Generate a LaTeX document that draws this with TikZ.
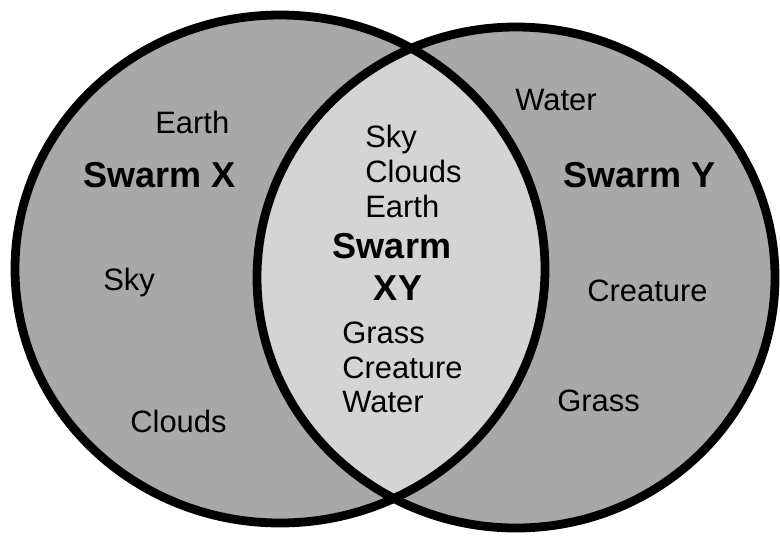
\documentclass[tikz,border=0pt]{standalone}
\usepackage{fontspec}
\setmainfont{Liberation Sans}
\definecolor{SwarmGray}{HTML}{A8A8A8}
\definecolor{SwarmLight}{HTML}{D4D4D4}
\tikzset{
  item/.style={anchor=base west,inner sep=0pt,font=\fontsize{17.6}{21}\selectfont},
  title/.style={anchor=base west,inner sep=0pt,font=\fontsize{20.5}{24}\selectfont\bfseries},
  ring/.style={black,line width=5pt}
}
\begin{document}
\begin{tikzpicture}[x=0.02cm,y=-0.02cm,line cap=round,line join=round]
  \useasboundingbox (0,0) rectangle (780,538);
  \coordinate (X) at (280,269);\coordinate (Y) at (516,277.5);
  \fill[SwarmGray] (X) ellipse[x radius=265,y radius=254];
  \fill[SwarmGray] (Y) ellipse[x radius=259,y radius=250.5];
  \begin{scope}
    \clip (X) ellipse[x radius=265,y radius=254];
    \fill[SwarmLight] (Y) ellipse[x radius=259,y radius=250.5];
  \end{scope}
  \draw[ring] (X) ellipse[x radius=265,y radius=254];
  \draw[ring] (Y) ellipse[x radius=259,y radius=250.5];
  % left only
  \node[item] (xearth) at (155,133) {Earth};
  \node[title] (xname) at (83,187) {Swarm X};
  \node[item] (xsky) at (103,290) {Sky};
  \node[item] (xclouds) at (130,432) {Clouds};
  % right only
  \node[item] (ywater) at (515,110) {Water};
  \node[title] (yname) at (563,187) {Swarm Y};
  \node[item] (ycreature) at (587,301) {Creature};
  \node[item] (ygrass) at (557,411) {Grass};
  % both
  \node[item] (xysky) at (365,147) {Sky};
  \node[item] (xyclouds) at (365,182) {Clouds};
  \node[item] (xyearth) at (365,217) {Earth};
  \node[title,anchor=base] (xyname) at (392,258) {Swarm};
  \node[title,anchor=base] (xyname2) at (398,300) {XY};
  \node[item] (xygrass) at (342,343) {Grass};
  \node[item] (xycreature) at (342,378) {Creature};
  \node[item] (xywater) at (342,412) {Water};
\end{tikzpicture}
\end{document}
